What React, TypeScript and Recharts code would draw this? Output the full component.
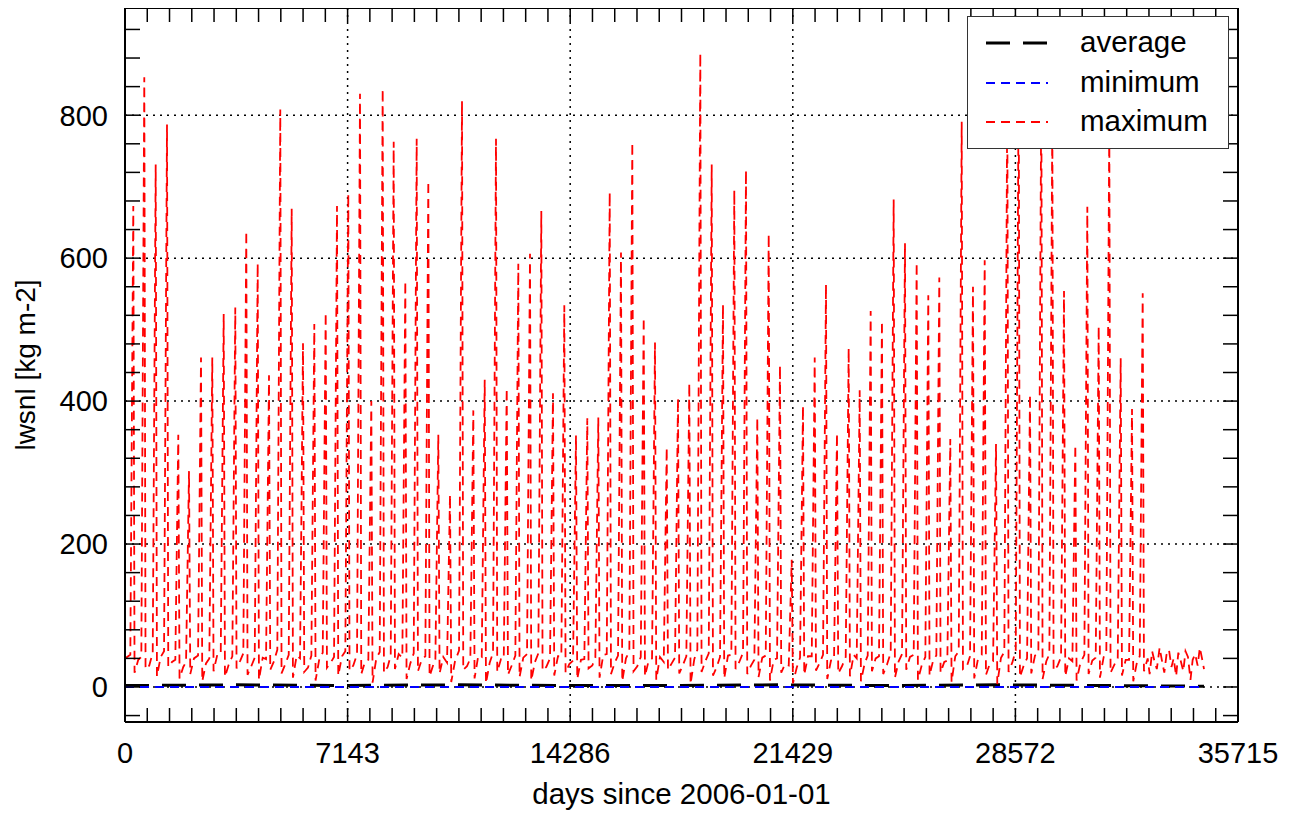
import React from "react";
import {
  CartesianGrid,
  Legend,
  Line,
  LineChart,
  XAxis,
  YAxis,
} from "recharts";

const FONT = "'Liberation Sans', Arial, Helvetica, sans-serif";

// days since 2006-01-01 of each yearly maximum peak
const peakDays = [
  266, 619, 985, 1348, 1710, 2054, 2439, 2801, 3167, 3539,
  3892, 4258, 4621, 4983, 5349, 5712, 6075, 6440, 6803, 7165,
  7541, 7904, 8269, 8622, 8995, 9360, 9733, 10054, 10429, 10814,
  11177, 11543, 11905, 12249, 12621, 12996, 13359, 13734, 14097, 14472,
  14835, 15188, 15554, 15916, 16279, 16645, 17007, 17383, 17745, 18108,
  18461, 18827, 19189, 19552, 19927, 20290, 20656, 21018, 21394, 21756,
  22132, 22494, 22847, 23222, 23575, 23928, 24290, 24666, 25029, 25404,
  25777, 26130, 26483, 26849, 27211, 27587, 27950, 28312, 28678, 29041,
  29404, 29757, 30132, 30495, 30880, 31245, 31585, 31951, 32314, 32657,
];

const peakValues = [
  673, 853, 731, 787, 353, 302, 461, 461, 522, 531,
  638, 593, 436, 808, 669, 481, 508, 524, 673, 690,
  830, 400, 837, 763, 568, 767, 708, 353, 269, 820,
  387, 430, 767, 418, 592, 606, 666, 411, 534, 352,
  376, 377, 692, 608, 762, 517, 482, 335, 404, 425,
  887, 731, 535, 695, 723, 377, 634, 450, 178, 393,
  461, 563, 355, 474, 415, 526, 512, 682, 621, 594,
  548, 573, 347, 791, 560, 597, 340, 830, 870, 409,
  850, 800, 554, 339, 672, 505, 790, 460, 389, 551,
];

// baseline values around each peak (before rise, after drop, mid-year)
const preRiseLows = [
  45, 42, 48, 50, 38, 35, 44, 40, 46, 43, 47, 41, 39, 52, 45, 40, 44, 48, 42, 50,
  46, 38, 49, 44, 41, 47, 43, 36, 34, 51, 40, 42, 48, 39, 44, 46, 47, 40, 43, 37,
  39, 41, 46, 44, 50, 42, 40, 35, 41, 43, 52, 47, 42, 45, 48, 38, 44, 40, 30, 41,
  43, 45, 38, 42, 40, 44, 43, 48, 46, 45, 42, 44, 37, 50, 43, 45, 36, 49, 51, 40,
  47, 46, 42, 36, 45, 41, 48, 40, 38, 43,
];
const postDropLows = [
  20, 25, 15, 28, 12, 18, 8, 22, 14, 26, 17, 10, 24, 19, 13, 21, 9, 27, 16, 23,
  18, 6, 20, 25, 11, 22, 15, 19, 7, 24, 12, 5, 21, 17, 14, 9, 23, 16, 20, 11,
  26, 13, 18, 8, 22, 15, 10, 24, 19, 4, 21, 16, 12, 25, 18, 14, 9, 20, 5, 17,
  23, 11, 19, 15, 8, 22, 18, 13, 24, 10, 16, 20, 7, 25, 12, 17, 4, 21, 14, 19,
  11, 23, 15, 9, 18, 13, 20, 16, 8, 22,
];
const midYearLows = [
  38, 30, 42, 35, 28, 40, 33, 45, 31, 37, 29, 41, 36, 32, 44, 27, 39, 34, 43, 30,
  35, 40, 28, 46, 33, 38, 31, 42, 36, 29, 44, 34, 39, 30, 41, 35, 28, 43, 32, 38,
  30, 45, 34, 40, 29, 37, 42, 33, 31, 39, 36, 28, 44, 35, 30, 41, 38, 32, 27, 43,
  34, 37, 29, 45, 33, 40, 31, 36, 42, 30, 38, 35, 43, 28, 39, 32, 41, 34, 30, 44,
  36, 29, 40, 33, 37, 42, 31, 38, 35, 40,
];

// noisy tail after the last peak
const tailDays = [
  32880, 32960, 33040, 33110, 33200, 33270, 33350, 33420, 33500, 33580,
  33650, 33730, 33800, 33880, 33960, 34030, 34110, 34190, 34260, 34340,
  34420, 34490, 34560, 34624,
];
const tailValues = [
  18, 50, 35, 25, 55, 38, 20, 45, 52, 28, 40, 15, 48, 36, 22, 50,
  42, 10, 38, 46, 30, 55, 40, 25,
];

const avgDays = [0, 3500, 7000, 10500, 14000, 17500, 21000, 24500, 28000, 31500, 34624];
const avgValues = [2, 3, 2, 3, 2, 2, 3, 2, 3, 2, 1];
const minValues = [0, 0, 0, 0, 0, 0, 0, 0, 0, 0, 0];

const xMajor = [0, 7143, 14286, 21429, 28572, 35715];
const yMajor = [0, 200, 400, 600, 800];

const legendItems = [
  { name: "average", color: "#000", width: 3, dash: "24 13" },
  { name: "minimum", color: "#0000ff", width: 1.8, dash: "9 6" },
  { name: "maximum", color: "#ff0000", width: 1.8, dash: "9 6" },
];

const maxData: { day: number; value: number }[] = [{ day: 0, value: 40 }];
peakDays.forEach((d, i) => {
  maxData.push({ day: d - 95, value: preRiseLows[i] });
  maxData.push({ day: d, value: peakValues[i] });
  maxData.push({ day: d + 40, value: postDropLows[i] });
  maxData.push({ day: d + 160, value: midYearLows[i] });
});
tailDays.forEach((d, i) => maxData.push({ day: d, value: tailValues[i] }));
maxData.sort((a, b) => a.day - b.day);

const avgData = avgDays.map((d, i) => ({ day: d, value: avgValues[i] }));
const minData = avgDays.map((d, i) => ({ day: d, value: minValues[i] }));

const xTicks: number[] = [];
for (let i = 0; i < xMajor.length - 1; i++) {
  for (let j = 0; j < 10; j++) {
    xTicks.push(xMajor[i] + ((xMajor[i + 1] - xMajor[i]) * j) / 10);
  }
}
xTicks.push(xMajor[xMajor.length - 1]);

const yTicks: number[] = [];
for (let v = -40; v <= 920; v += 40) yTicks.push(v);

const X_DOMAIN: [number, number] = [0, 35715];
const Y_DOMAIN: [number, number] = [-49, 950];
const axisLineStyle = { stroke: "#000", strokeWidth: 2 };
const tickLineStyle = { stroke: "#000", strokeWidth: 1.5 };

function LegendBox() {
  return (
    <div
      style={{
        width: 262,
        height: 133,
        background: "#fff",
        border: "1px solid #333",
        boxSizing: "border-box",
        position: "relative",
        fontFamily: FONT,
        fontSize: 29.5,
        color: "#000",
      }}
    >
      {legendItems.map((item, i) => (
        <div key={item.name} style={{ position: "absolute", left: 0, top: 6 + i * 39.5, height: 40, width: 260 }}>
          <svg width={90} height={40} style={{ position: "absolute", left: 0, top: 0 }}>
            <line x1={18} x2={80} y1={20} y2={20} stroke={item.color} strokeWidth={item.width} strokeDasharray={item.dash} />
          </svg>
          <span style={{ position: "absolute", left: 112, top: 2, lineHeight: "34px" }}>{item.name}</span>
        </div>
      ))}
    </div>
  );
}

export default function App() {
  return (
    <div style={{ marginTop: -4 }}>
      <LineChart width={1285} height={808} margin={{ top: 3, right: 54, bottom: 0, left: 0 }}>
        <CartesianGrid
          horizontal
          vertical
          horizontalValues={yMajor}
          verticalValues={xMajor.slice(1, -1)}
          stroke="#000"
          strokeWidth={1.5}
          strokeDasharray="2 5"
        />
        <XAxis
          dataKey="day"
          type="number"
          domain={X_DOMAIN}
          allowDataOverflow
          ticks={xTicks}
          interval={0}
          tickFormatter={(v: number) => (xMajor.includes(v) ? String(v) : "")}
          tickSize={-14}
          tickMargin={34}
          height={90}
          axisLine={axisLineStyle}
          tickLine={tickLineStyle}
          tick={{ fill: "#000", fontSize: 29, fontFamily: FONT }}
          label={{ value: "days since 2006-01-01", position: "insideBottom", offset: 8, fill: "#000", fontSize: 29.5, fontFamily: FONT }}
        />
        <XAxis
          xAxisId="top"
          orientation="top"
          dataKey="day"
          type="number"
          domain={X_DOMAIN}
          allowDataOverflow
          ticks={xTicks}
          interval={0}
          tickFormatter={() => ""}
          tickSize={-14}
          height={1}
          axisLine={axisLineStyle}
          tickLine={tickLineStyle}
        />
        <YAxis
          type="number"
          domain={Y_DOMAIN}
          allowDataOverflow
          ticks={yTicks}
          interval={0}
          tickFormatter={(v: number) => (yMajor.includes(v) ? String(v) : "")}
          tickSize={-15}
          tickMargin={32}
          width={117}
          axisLine={axisLineStyle}
          tickLine={tickLineStyle}
          tick={{ fill: "#000", fontSize: 29, fontFamily: FONT }}
          label={({ viewBox }: any) => (
            <text
              x={27}
              y={viewBox.y + viewBox.height / 2}
              transform={`rotate(-90, 27, ${viewBox.y + viewBox.height / 2})`}
              textAnchor="middle"
              fill="#000"
              fontSize={28}
              fontFamily={FONT}
            >
              lwsnl [kg m-2]
            </text>
          )}
        />
        <YAxis
          yAxisId="right"
          orientation="right"
          type="number"
          domain={Y_DOMAIN}
          allowDataOverflow
          ticks={yTicks}
          interval={0}
          tickFormatter={() => ""}
          tickSize={-15}
          width={1}
          axisLine={axisLineStyle}
          tickLine={tickLineStyle}
        />
        <Line
          data={avgData}
          dataKey="value"
          name="average"
          xAxisId="top"
          yAxisId="right"
          stroke="#000"
          strokeWidth={3}
          strokeDasharray="24 13"
          dot={false}
          type="linear"
          isAnimationActive={false}
        />
        <Line
          data={minData}
          dataKey="value"
          name="minimum"
          stroke="#0000ff"
          strokeWidth={1.8}
          strokeDasharray="9 6"
          dot={false}
          type="linear"
          isAnimationActive={false}
        />
        <Line
          data={maxData}
          dataKey="value"
          name="maximum"
          stroke="#ff0000"
          strokeWidth={1.8}
          strokeDasharray="9 6"
          dot={false}
          type="linear"
          isAnimationActive={false}
        />
        <Legend
          layout="horizontal"
          verticalAlign="middle"
          align="center"
          content={() => <LegendBox />}
          wrapperStyle={{ left: 959, top: 12, width: 262, height: 133 }}
        />
      </LineChart>
    </div>
  );
}
